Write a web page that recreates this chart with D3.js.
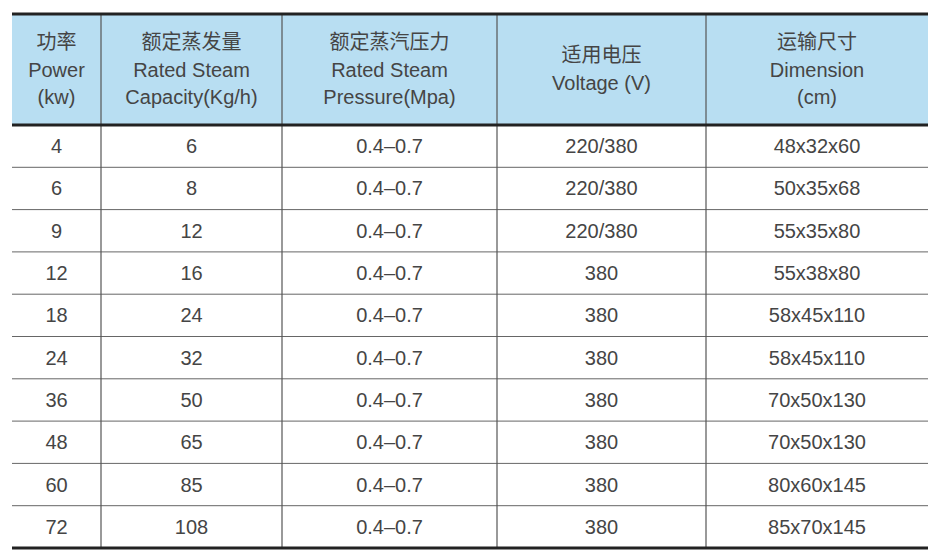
<!DOCTYPE html><html><head><meta charset="utf-8"><script src="https://cdn.jsdelivr.net/npm/d3@7"></script>
<style>body{margin:0;background:#fff}</style></head><body><svg id="c" width="942" height="558"></svg>
<script>
const headersCN=["功率","额定蒸发量","额定蒸汽压力","适用电压","运输尺寸"];
const headersEN=[["Power","(kw)"],["Rated Steam","Capacity(Kg/h)"],["Rated Steam","Pressure(Mpa)"],["Voltage (V)"],["Dimension","(cm)"]];
const power=["4","6","9","12","18","24","36","48","60","72"];
const capacity=["6","8","12","16","24","32","50","65","85","108"];
const pressure=Array(10).fill("0.4–0.7");
const voltage=["220/380","220/380","220/380","380","380","380","380","380","380","380"];
const dimension=["48x32x60","50x35x68","55x35x80","55x38x80","58x45x110","58x45x110","70x50x130","70x50x130","80x60x145","85x70x145"];
const cols=[power,capacity,pressure,voltage,dimension];
const svg=d3.select("#c");
const edges=[12,101,282,497,706,928];
const tTop=14,hb=125,bottom=548;
const y=d3.scaleBand().domain(d3.range(10)).range([hb,bottom]);
const font="Liberation Sans, Arial, sans-serif", col="#454545";
svg.append("rect").attr("x",edges[0]).attr("y",tTop).attr("width",edges[5]-edges[0]).attr("height",hb-tTop).attr("fill","#b8def2");
d3.range(1,10).forEach(i=>svg.append("line").attr("x1",edges[0]).attr("x2",edges[5]).attr("y1",y(i)).attr("y2",y(i)).attr("stroke","#666").attr("stroke-width",1));
edges.slice(1,5).forEach(x=>svg.append("line").attr("x1",x).attr("x2",x).attr("y1",tTop).attr("y2",bottom).attr("stroke","#555").attr("stroke-width",1.2));
[tTop,hb,bottom].forEach(v=>svg.append("line").attr("x1",edges[0]).attr("x2",edges[5]).attr("y1",v).attr("y2",v).attr("stroke","#222").attr("stroke-width",3));
headersCN.forEach((h,i)=>{
  const cx=(edges[i]+edges[i+1])/2;
  const lines=[h,...headersEN[i]];
  const n=lines.length, y0=n===3?42:55;
  lines.forEach((t,j)=>svg.append("text").attr("x",cx).attr("y",y0+j*27.5).attr("dy","0.35em").attr("text-anchor","middle")
    .attr("font-family",j===0?"Noto Sans CJK SC":font).attr("font-size",20).attr("fill",col).text(t));
});
cols.forEach((c,i)=>{
  const cx=(edges[i]+edges[i+1])/2;
  c.forEach((v,r)=>svg.append("text").attr("x",cx).attr("y",y(r)+y.bandwidth()/2).attr("dy","0.35em").attr("text-anchor","middle")
    .attr("font-family",font).attr("font-size",20).attr("fill",col).text(v));
});
</script></body></html>
